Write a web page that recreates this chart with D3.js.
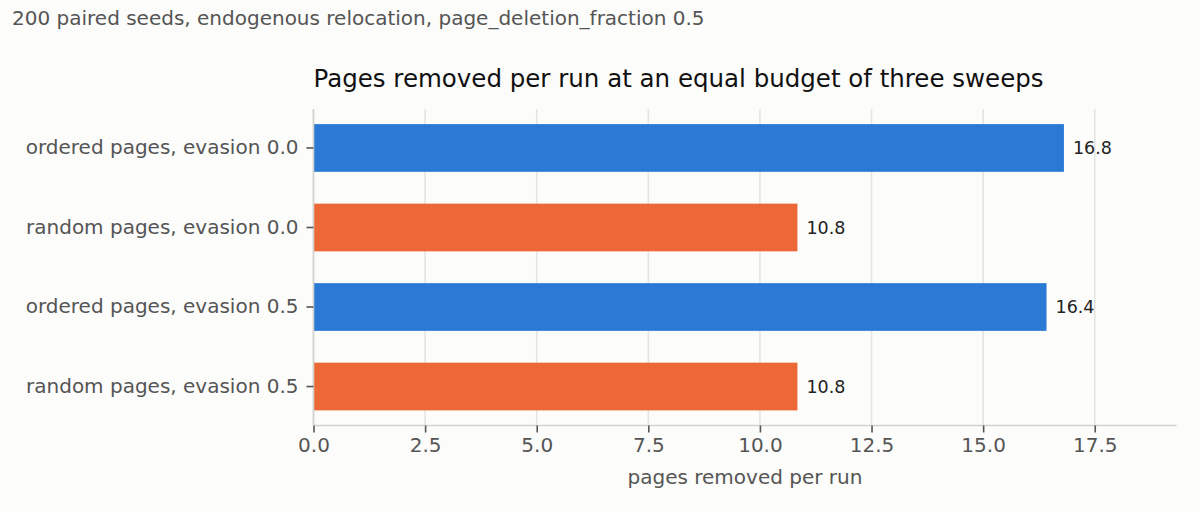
<!DOCTYPE html>
<html>
<head>
<meta charset="utf-8">
<script src="https://cdn.jsdelivr.net/npm/d3@7"></script>
<style>
  body { margin: 0; background: #fcfcfa; }
  svg { font-family: "DejaVu Sans", sans-serif; }
</style>
</head>
<body>
<svg id="chart" width="1200" height="512"></svg>
<script>
// data
var categories = [
    "ordered pages, evasion 0.0",
    "random pages, evasion 0.0",
    "ordered pages, evasion 0.5",
    "random pages, evasion 0.5"
];
var pagesRemoved = [16.81, 10.84, 16.42, 10.84];
var xTicks = [0, 2.5, 5, 7.5, 10, 12.5, 15, 17.5];

var colors = ["#2a7ad5", "#ec6836", "#2a7ad5", "#ec6836"];

var svg = d3.select("#chart");

// plot box (window.top is taken, so own names)
var plotLeft = 313.5, plotRight = 1176.5, plotTop = 109, plotBottom = 425.5;

var x = d3.scaleLinear()
    .domain([0, d3.max(pagesRemoved) * 1.15])
    .range([plotLeft, plotRight]);

var y = d3.scaleBand()
    .domain(categories)
    .range([plotTop, plotBottom])
    .paddingInner(0.4)
    .paddingOuter(0.19);

svg.append("rect")
    .attr("width", 1200).attr("height", 512)
    .attr("fill", "#fcfcfa");

// vertical gridlines
svg.append("g")
    .selectAll("line")
    .data(xTicks)
    .enter().append("line")
        .attr("x1", function (d) { return x(d); })
        .attr("x2", function (d) { return x(d); })
        .attr("y1", plotTop)
        .attr("y2", plotBottom)
        .attr("stroke", "#e4e4e2")
        .attr("stroke-width", 1.6);

// bars
svg.append("g")
    .selectAll("rect")
    .data(pagesRemoved)
    .enter().append("rect")
        .attr("x", x(0))
        .attr("y", function (d, i) { return y(categories[i]); })
        .attr("width", function (d) { return x(d) - x(0); })
        .attr("height", y.bandwidth())
        .attr("fill", function (d, i) { return colors[i]; });

// value labels
svg.append("g")
    .selectAll("text")
    .data(pagesRemoved)
    .enter().append("text")
        .attr("x", function (d) { return x(d) + 9; })
        .attr("y", function (d, i) { return y(categories[i]) + y.bandwidth() / 2; })
        .attr("dy", "0.35em")
        .attr("font-size", 17.5)
        .attr("fill", "#222")
        .text(function (d) { return d.toFixed(1); });

// x axis
var xAxis = svg.append("g")
    .attr("transform", "translate(0," + plotBottom + ")")
    .call(d3.axisBottom(x)
        .tickValues(xTicks)
        .tickSize(7)
        .tickPadding(5)
        .tickFormat(d3.format(".1f")));

xAxis.select(".domain")
    .attr("d", "M" + plotLeft + ",0H" + plotRight)
    .attr("stroke", "#d2d2ce")
    .attr("stroke-width", 1.6);
xAxis.selectAll(".tick line")
    .attr("stroke", "#555")
    .attr("stroke-width", 1.6);
xAxis.selectAll(".tick text")
    .attr("font-size", 20)
    .attr("font-family", "DejaVu Sans")
    .attr("fill", "#555");

// y axis
var yAxis = svg.append("g")
    .attr("transform", "translate(" + plotLeft + ",0)")
    .call(d3.axisLeft(y)
        .tickSize(7)
        .tickPadding(8));

yAxis.select(".domain")
    .attr("d", "M0," + plotTop + "V" + plotBottom)
    .attr("stroke", "#d2d2ce")
    .attr("stroke-width", 1.6);
yAxis.selectAll(".tick line")
    .attr("stroke", "#555")
    .attr("stroke-width", 1.6);
yAxis.selectAll(".tick text")
    .attr("font-size", 20)
    .attr("font-family", "DejaVu Sans")
    .attr("fill", "#555");

// axis label
svg.append("text")
    .attr("x", (plotLeft + plotRight) / 2)
    .attr("y", 484)
    .attr("text-anchor", "middle")
    .attr("font-size", 20)
    .attr("fill", "#555")
    .text("pages removed per run");

// titles
svg.append("text")
    .attr("x", plotLeft)
    .attr("y", 87)
    .attr("font-size", 24.5)
    .attr("fill", "#111")
    .text("Pages removed per run at an equal budget of three sweeps");

svg.append("text")
    .attr("x", 12)
    .attr("y", 25)
    .attr("font-size", 20)
    .attr("fill", "#555")
    .text("200 paired seeds, endogenous relocation, page_deletion_fraction 0.5");
</script>
</body>
</html>
